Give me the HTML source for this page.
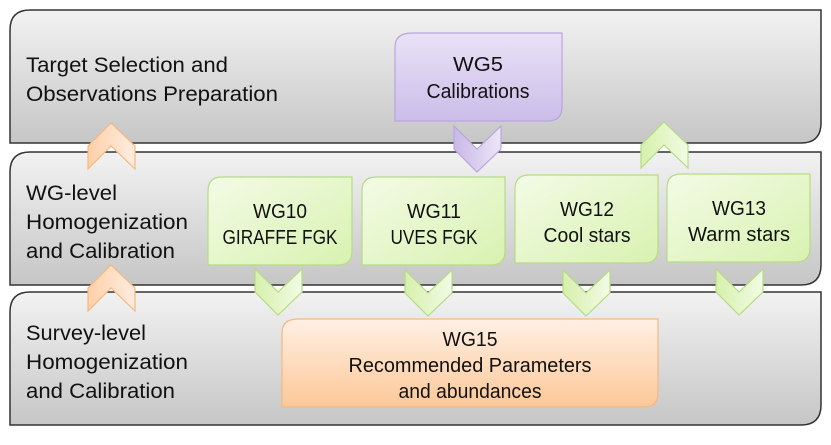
<!DOCTYPE html>
<html><head><meta charset="utf-8"><style>
html,body{margin:0;padding:0;background:#fff}
svg text{font-family:"Liberation Sans",sans-serif;font-size:21px;fill:#111}
svg .b{font-size:20px}
</style></head><body>
<svg width="831" height="440" viewBox="0 0 831 440" xmlns="http://www.w3.org/2000/svg">
<defs>
<linearGradient id="gb" x1="0" y1="0" x2="0" y2="1"><stop offset="0" stop-color="#f2f2f2"/><stop offset="1" stop-color="#c6c6c6"/></linearGradient>
<linearGradient id="gg" x1="0" y1="0" x2="1" y2="1"><stop offset="0" stop-color="#f3fbe6"/><stop offset="1" stop-color="#d8f2b0"/></linearGradient>
<linearGradient id="gp" x1="0" y1="0" x2="0" y2="1"><stop offset="0" stop-color="#e9e2f6"/><stop offset="1" stop-color="#cbbde9"/></linearGradient>
<linearGradient id="go" x1="0" y1="0" x2="0" y2="1"><stop offset="0" stop-color="#fff0e4"/><stop offset="1" stop-color="#fcc898"/></linearGradient>
<linearGradient id="gc" x1="0" y1="0" x2="1" y2="0"><stop offset="0" stop-color="#d6f0ac"/><stop offset="1" stop-color="#f2fbe4"/></linearGradient>
<linearGradient id="gco" x1="0" y1="0" x2="1" y2="0"><stop offset="0" stop-color="#fdd0a8"/><stop offset="1" stop-color="#ffece0"/></linearGradient>
<linearGradient id="gcp" x1="0" y1="0" x2="1" y2="0"><stop offset="0" stop-color="#c8b8e6"/><stop offset="1" stop-color="#ece6f7"/></linearGradient>
</defs>
<g stroke="#333" stroke-width="1.5" fill="url(#gb)">
<path d="M30 10 H821 V123 Q821 143 801 143 H10 V30 Q10 10 30 10Z"/>
<path d="M30 152 H821 V265 Q821 285 801 285 H10 V172 Q10 152 30 152Z"/>
<path d="M30 292 H821 V405 Q821 425 801 425 H10 V312 Q10 292 30 292Z"/>
</g>
<text x="26" y="72" textLength="202" lengthAdjust="spacingAndGlyphs">Target Selection and</text>
<text x="26" y="101" textLength="252" lengthAdjust="spacingAndGlyphs">Observations Preparation</text>
<text x="26" y="200" textLength="91" lengthAdjust="spacingAndGlyphs">WG-level</text>
<text x="26" y="229" textLength="162" lengthAdjust="spacingAndGlyphs">Homogenization</text>
<text x="26" y="258" textLength="149" lengthAdjust="spacingAndGlyphs">and Calibration</text>
<text x="26" y="340" textLength="120" lengthAdjust="spacingAndGlyphs">Survey-level</text>
<text x="26" y="369" textLength="162" lengthAdjust="spacingAndGlyphs">Homogenization</text>
<text x="26" y="398" textLength="149" lengthAdjust="spacingAndGlyphs">and Calibration</text>
<path d="M412 33 H562 V107 Q562 121 548 121 H395 V47 Q395 33 412 33Z" fill="url(#gp)" stroke="#b8a6de" stroke-width="1.2"/>
<text class="b" x="478" y="71" text-anchor="middle" textLength="50" lengthAdjust="spacingAndGlyphs">WG5</text>
<text class="b" x="478" y="98" text-anchor="middle" textLength="103" lengthAdjust="spacingAndGlyphs">Calibrations</text>
<g fill="url(#gg)" stroke="#b5dc84" stroke-width="1.2">
<path d="M222 177 H352 V251 Q352 265 338 265 H208 V191 Q208 177 222 177Z"/>
<path d="M376 177 H505 V251 Q505 265 491 265 H362 V191 Q362 177 376 177Z"/>
<path d="M529 175 H658 V249 Q658 263 644 263 H515 V189 Q515 175 529 175Z"/>
<path d="M681 174 H810 V248 Q810 262 796 262 H667 V188 Q667 174 681 174Z"/>
</g>
<g text-anchor="middle" class="b">
<text class="b" x="280" y="218" textLength="54" lengthAdjust="spacingAndGlyphs">WG10</text><text class="b" x="280" y="244" textLength="115" lengthAdjust="spacingAndGlyphs">GIRAFFE FGK</text>
<text class="b" x="434" y="218" textLength="54" lengthAdjust="spacingAndGlyphs">WG11</text><text class="b" x="434" y="244" textLength="87" lengthAdjust="spacingAndGlyphs">UVES FGK</text>
<text class="b" x="587" y="216" textLength="54" lengthAdjust="spacingAndGlyphs">WG12</text><text class="b" x="587" y="242" textLength="87" lengthAdjust="spacingAndGlyphs">Cool stars</text>
<text class="b" x="739" y="215" textLength="54" lengthAdjust="spacingAndGlyphs">WG13</text><text class="b" x="739" y="241" textLength="102" lengthAdjust="spacingAndGlyphs">Warm stars</text>
</g>
<path d="M298 319 H658 V393 Q658 407 644 407 H282 V333 Q282 319 298 319Z" fill="url(#go)" stroke="#f5b880" stroke-width="1.2"/>
<text class="b" x="470" y="346" text-anchor="middle" textLength="55" lengthAdjust="spacingAndGlyphs">WG15</text>
<text class="b" x="470" y="372" text-anchor="middle" textLength="243" lengthAdjust="spacingAndGlyphs">Recommended Parameters</text>
<text class="b" x="470" y="398" text-anchor="middle" textLength="143" lengthAdjust="spacingAndGlyphs">and abundances</text>
<g stroke-width="1.2">
<path transform="translate(88,123)" d="M0 23 L23 0 L47 23 L47 46 L23 23 L0 46Z" fill="url(#gco)" stroke="#f5b880"/>
<path transform="translate(88,265)" d="M0 23 L23 0 L47 23 L47 46 L23 23 L0 46Z" fill="url(#gco)" stroke="#f5b880"/>
<path transform="translate(641,122)" d="M0 23 L23 0 L47 23 L47 46 L23 23 L0 46Z" fill="url(#gc)" stroke="#b5dc84"/>
<path transform="translate(454,126)" d="M0 0 L23 23 L47 0 L47 23 L23 46 L0 23Z" fill="url(#gcp)" stroke="#b8a6de"/>
<path transform="translate(255,269)" d="M0 0 L23 23 L47 0 L47 23 L23 46 L0 23Z" fill="url(#gc)" stroke="#b5dc84"/>
<path transform="translate(405,270)" d="M0 0 L23 23 L47 0 L47 23 L23 46 L0 23Z" fill="url(#gc)" stroke="#b5dc84"/>
<path transform="translate(563,270)" d="M0 0 L23 23 L47 0 L47 23 L23 46 L0 23Z" fill="url(#gc)" stroke="#b5dc84"/>
<path transform="translate(716,269)" d="M0 0 L23 23 L47 0 L47 23 L23 46 L0 23Z" fill="url(#gc)" stroke="#b5dc84"/>
</g>
</svg>
</body></html>
